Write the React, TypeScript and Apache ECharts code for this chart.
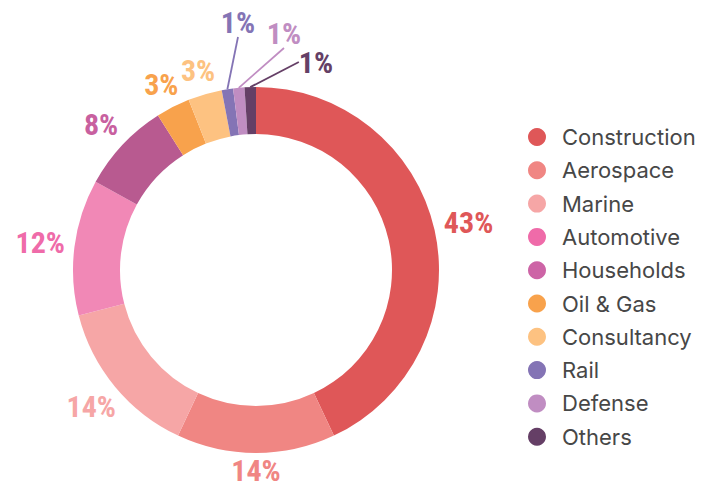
import React, { useEffect, useRef } from "react";
import * as echarts from "echarts";

const categories = [
  "Construction",
  "Aerospace",
  "Marine",
  "Automotive",
  "Households",
  "Oil & Gas",
  "Consultancy",
  "Rail",
  "Defense",
  "Others",
];
const shares = [43, 14, 14, 12, 8, 3, 3, 1, 1, 1];

const sliceColors = ["#DF5758", "#F08683", "#F6A6A6", "#F188B6", "#B85A90", "#F8A24C", "#FDC281", "#8474B5", "#C08DC2", "#653F66"];
const legendColors = ["#DF5758", "#F08683", "#F6A6A6", "#EF6BA9", "#CD64A6", "#F8A24C", "#FDC281", "#8474B5", "#C08DC2", "#653F66"];
const labelColors = ["#DF5758", "#F08683", "#F6A6A6", "#EF6BA9", "#C8609F", "#F8A24C", "#FDC281", "#8474B5", "#C08DC2", "#653F66"];

// tiny slices whose labels are pulled out with leader lines
const smallIdx = [7, 8, 9];
const smallLabelAt: Record<number, [number, number]> = { 7: [238, 22], 8: [284, 33], 9: [316, 62] };

const LABEL_FONT = "'Roboto Condensed', 'Liberation Sans Narrow', Roboto, sans-serif";
const LABEL_SIZE = 30;
const CX = 256;
const CY = 270;
const INNER = 136;
const OUTER = 183;
const LABEL_GAP = 12;
const CHART_H = 491;

export default function App() {
  const ref = useRef<HTMLDivElement>(null);
  useEffect(() => {
    if (!ref.current) return;
    const chart = echarts.init(ref.current, undefined, { renderer: "svg" });
    const total = shares.reduce((a, b) => a + b, 0);
    let cum = 0;
    const midAngles = shares.map((v) => {
      const m = ((cum + v / 2) / total) * 360;
      cum += v;
      return m;
    });
    chart.setOption({
      animation: false,
      backgroundColor: "#ffffff",
      legend: {
        orient: "vertical",
        left: 528,
        top: 126,
        padding: 0,
        itemWidth: 40,
        itemHeight: 18,
        itemGap: 11.3,
        icon: "circle",
        selectedMode: false,
        textStyle: { fontSize: 22, color: "#474747", fontFamily: "Inter, Roboto, sans-serif" },
        data: categories.map((n, i) => ({ name: n, itemStyle: { color: legendColors[i] } })),
      },
      series: [
        {
          type: "pie",
          name: "main",
          center: [CX, CY],
          radius: [INNER, OUTER],
          startAngle: 90,
          clockwise: true,
          avoidLabelOverlap: false,
          label: {
            show: true,
            position: "outside",
            formatter: "{c}%",
            fontSize: LABEL_SIZE,
            lineHeight: 24,
            fontWeight: "bold",
            fontFamily: LABEL_FONT,
          },
          itemStyle: { borderWidth: 0 },
          labelLayout: (p: any) => {
            const i = p.dataIndex;
            const sp = smallLabelAt[i];
            if (sp) return { x: sp[0], y: sp[1], align: "center", verticalAlign: "middle" };
            const a = (midAngles[i] * Math.PI) / 180;
            const ux = Math.sin(a);
            const uy = -Math.cos(a);
            const hw = p.labelRect.width * 0.45;
            const hh = 12;
            const ex = Math.abs(ux) > 1e-6 ? hw / Math.abs(ux) : Infinity;
            const ey = Math.abs(uy) > 1e-6 ? hh / Math.abs(uy) : Infinity;
            const r = OUTER + LABEL_GAP + Math.min(ex, ey);
            const y = Math.min(CY + r * uy, CHART_H - LABEL_SIZE * 0.68);
            return { x: CX + r * ux, y, align: "center", verticalAlign: "middle" };
          },
          data: categories.map((n, i) => {
            const small = smallIdx.includes(i);
            return {
              name: n,
              value: shares[i],
              itemStyle: { color: sliceColors[i] },
              label: { color: labelColors[i] },
              labelLine: small
                ? { show: true, length: 10, length2: 0, lineStyle: { color: labelColors[i], width: 1.8 } }
                : { show: false },
            };
          }),
        },
      ],
    });
    return () => chart.dispose();
  }, []);
  return <div ref={ref} style={{ position: "absolute", left: 0, top: 0, width: 710, height: 491 }} />;
}
